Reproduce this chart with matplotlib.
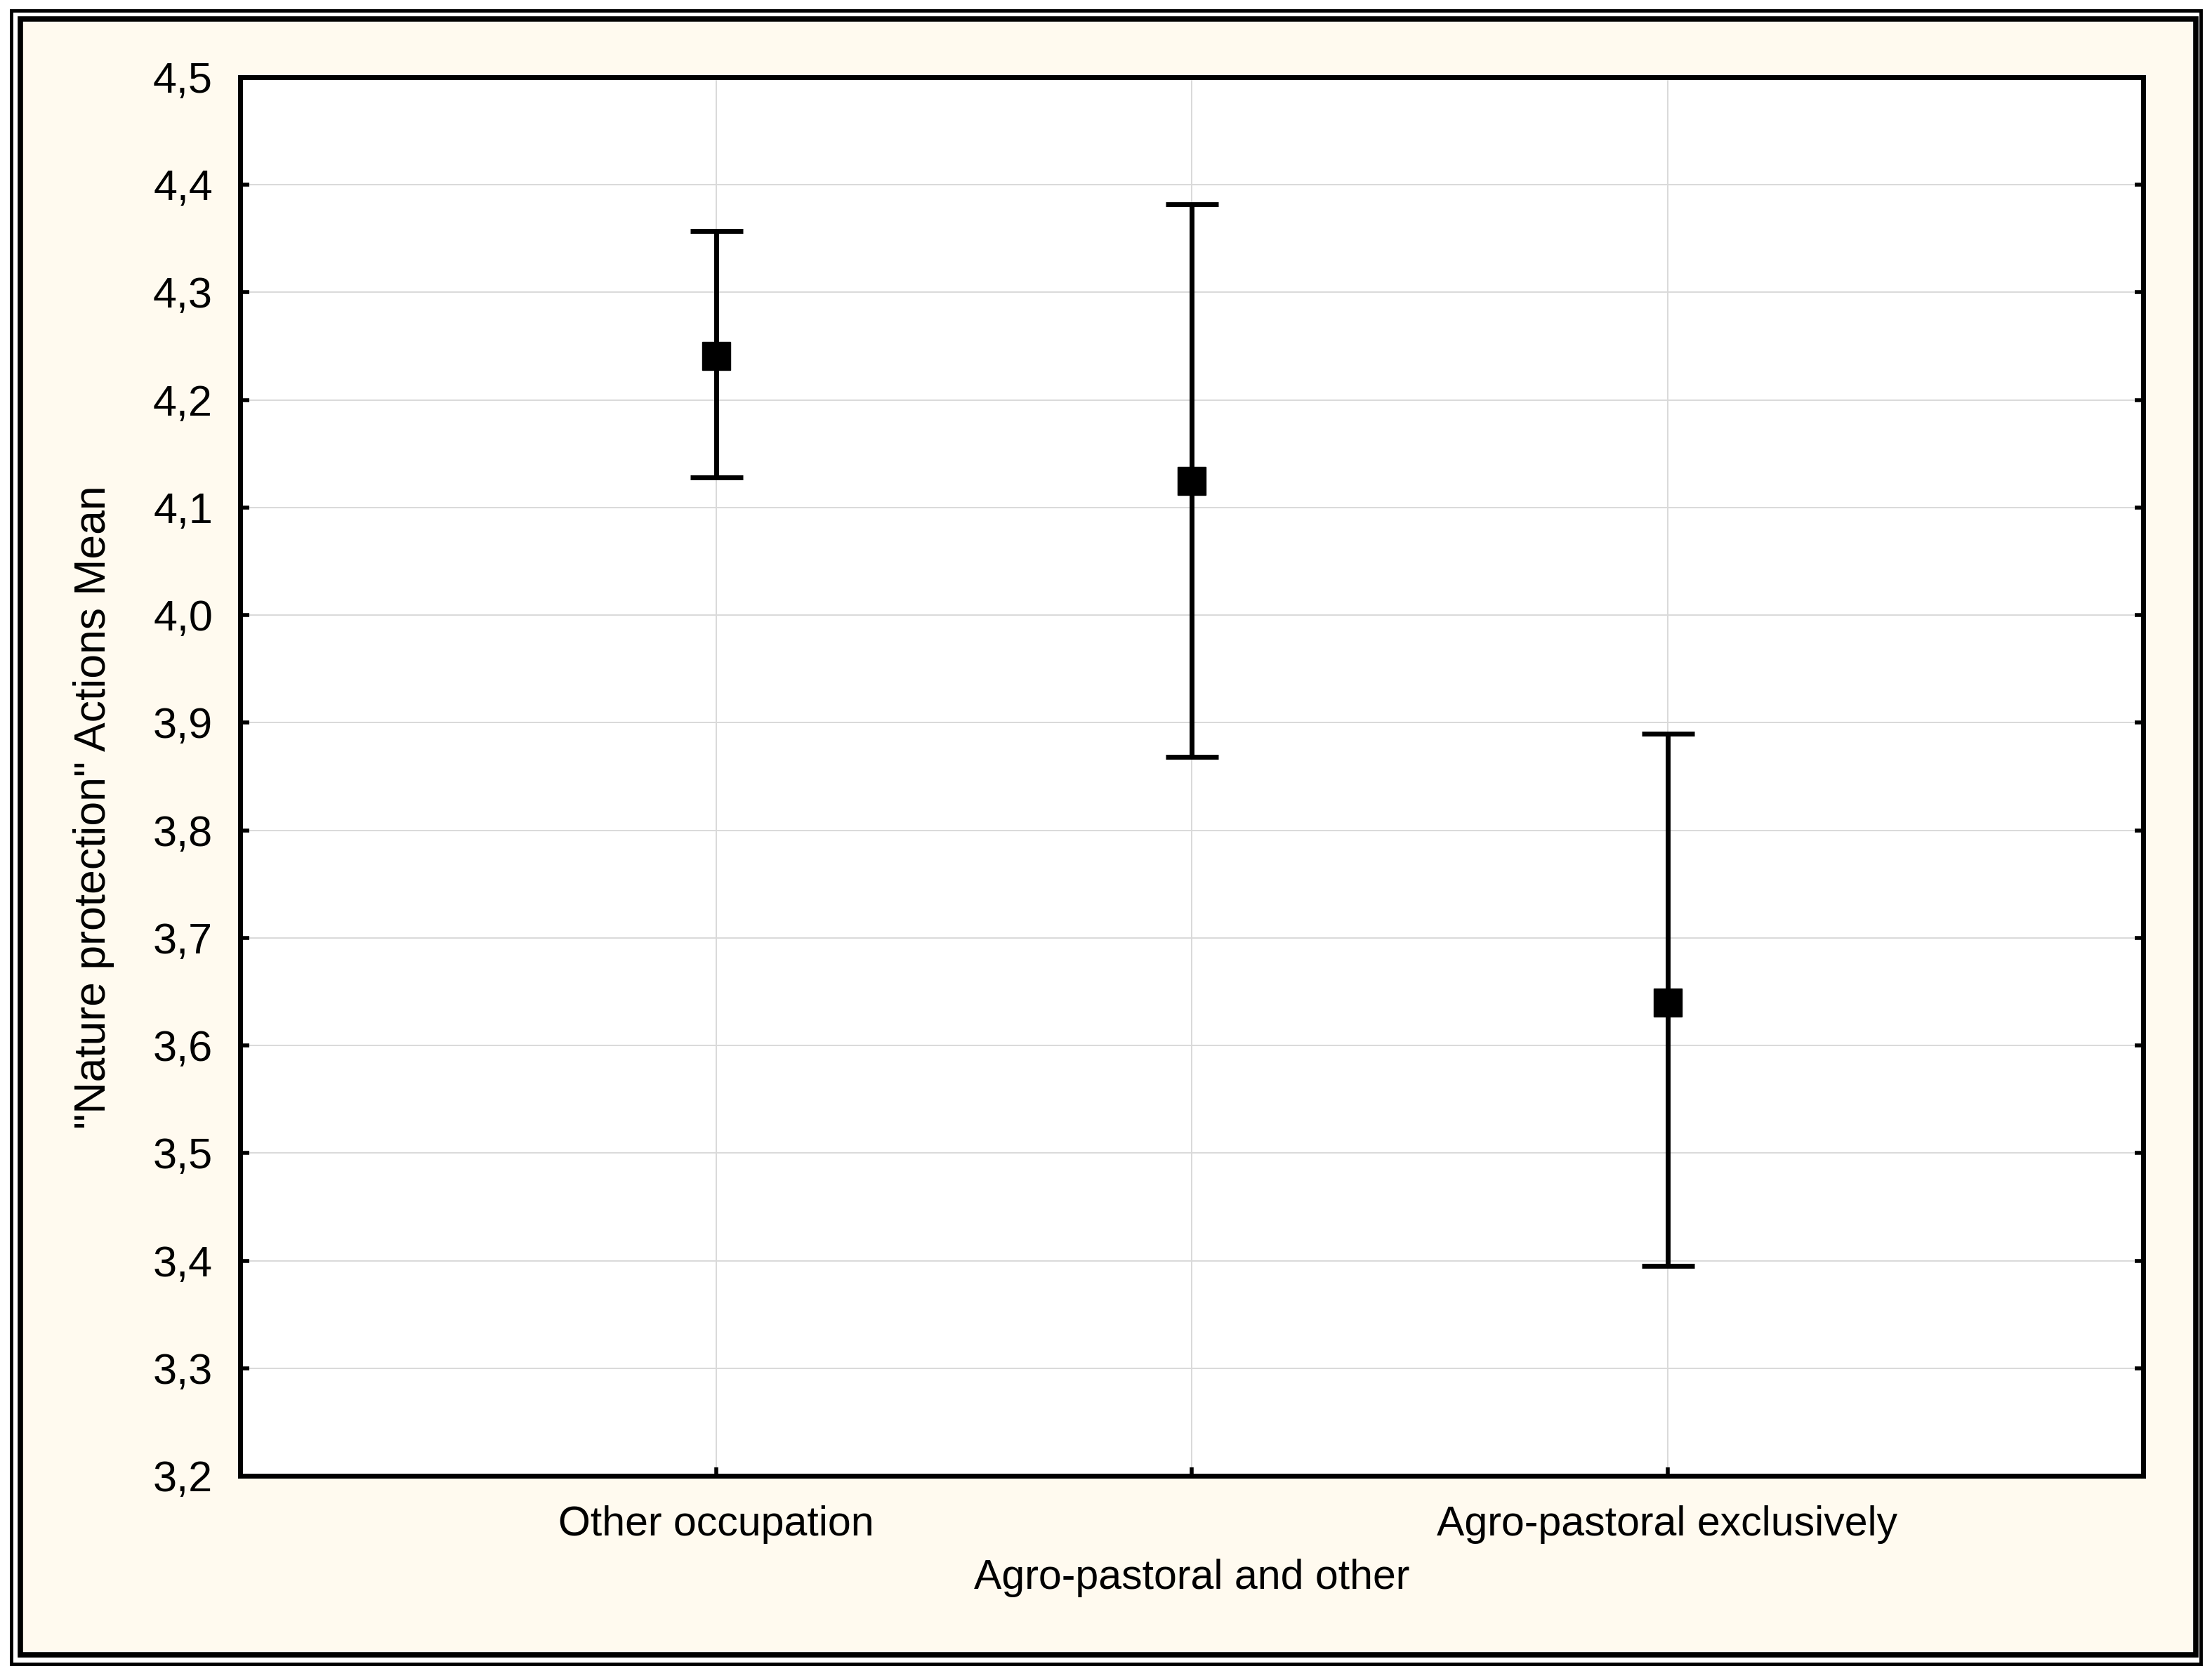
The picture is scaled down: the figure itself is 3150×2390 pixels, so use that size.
#!/usr/bin/env python3

import matplotlib
matplotlib.use('Agg')
import matplotlib.pyplot as plt
from matplotlib.patches import Rectangle
import numpy as np

categories = ["Other occupation", "Agro-pastoral and other",
              "Agro-pastoral exclusively"]
means = [4.241, 4.125, 3.640]
upper = [4.357, 4.382, 3.890]
lower = [4.128, 3.868, 3.395]
y_ticks = [3.2, 3.3, 3.4, 3.5, 3.6, 3.7, 3.8, 3.9, 4.0, 4.1, 4.2, 4.3, 4.4, 4.5]
y_label = '"Nature protection" Actions Mean'

W, H = 3150, 2390
plt.rcParams['font.family'] = ['Liberation Sans', 'DejaVu Sans']

fig = plt.figure(figsize=(W / 100, H / 100), dpi=100, facecolor='white')


def px_rect(x0, y0, x1, y1, **kw):
    # rectangle given in pixel coords, y measured from top
    return Rectangle((x0 / W, 1 - y1 / H), (x1 - x0) / W, (y1 - y0) / H,
                     transform=fig.transFigure, **kw)


# double frame round the whole picture (behind the axes)
fig.patches.append(px_rect(16, 15, 3133.5, 2369.5, fill=False,
                           edgecolor='black', linewidth=3.5, zorder=-2))
fig.patches.append(px_rect(28.5, 26.5, 3126.5, 2356.5, facecolor='#FFFAEF',
                           edgecolor='black', linewidth=5.5, zorder=-1))

ax = fig.add_axes([342 / W, 1 - 2102 / H, (3052 - 342) / W, (2102 - 110) / H])
ax.set_facecolor('white')

x = np.arange(1, len(categories) + 1)
m = np.array(means)
err = np.vstack([m - np.array(lower), np.array(upper) - m])
ax.errorbar(x, m, yerr=err, fmt='s', color='black', markersize=29,
            elinewidth=5, capsize=27, capthick=5, zorder=3)

ax.set_xlim(0, 4)
ax.set_ylim(3.2, 4.5)
ax.set_yticks(y_ticks)
ax.set_yticklabels(['{:.1f}'.format(v).replace('.', ',') for v in y_ticks],
                   fontsize=44)
ax.set_xticks(x)
# middle category label is staggered one row lower
ax.set_xticklabels([c if i % 2 == 0 else '\n' + c
                    for i, c in enumerate(categories)],
                   linespacing=1.5, fontsize=42.5)

ax.grid(True, color='#D9D9D9', linewidth=1.4, zorder=0)
ax.set_axisbelow(True)

for s in ax.spines.values():
    s.set_linewidth(5)
ax.tick_params(axis='both', direction='in', length=9, width=4, color='black')
ax.tick_params(axis='y', right=True, pad=28)
ax.tick_params(axis='x', top=False, pad=30)

ax.set_ylabel(y_label, fontsize=45)
ax.yaxis.set_label_coords(-0.066, 0.478)

fig.savefig('out.png', dpi=100, facecolor='white')
